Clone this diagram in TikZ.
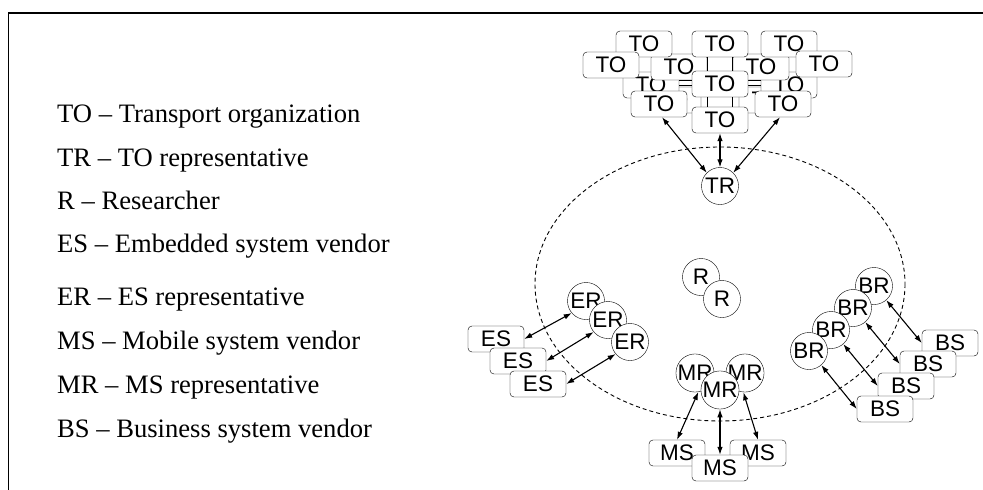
\documentclass[tikz,border=0pt]{standalone}
\usepackage{fontspec}
\setmainfont{Liberation Serif}
\newfontfamily\diagfont{Liberation Sans}
\usetikzlibrary{arrows.meta}
\tikzset{
  org/.style={draw, fill=white, rounded corners=4pt, minimum width=56pt,
    minimum height=26pt, inner sep=0pt, font=\diagfont\fontsize{22.5}{24}\selectfont},
  rep/.style={draw, fill=white, circle, minimum size=37pt, inner sep=0pt,
    font=\diagfont\fontsize{22.5}{24}\selectfont},
  legend/.style={anchor=base west, inner sep=0pt, font=\fontsize{26.6}{30}\selectfont},
  link/.style={{Latex[length=8pt,width=5.5pt]}-{Latex[length=8pt,width=5.5pt]}, line width=1.1pt},
}
\begin{document}
\begin{tikzpicture}[x=1pt,y=-1pt]
      \useasboundingbox (0,0) rectangle (983,490);
      % frame
      \draw[line width=2pt] (8,13) -- (983,13);
      \draw[line width=1pt] (8,13) -- (8,490);
      % legend
      \node[legend] (lgTO) at (57,122) {TO -- Transport organization};
      \node[legend] (lgTR) at (57,166) {TR -- TO representative};
      \node[legend] (lgR)  at (57,209) {R -- Researcher};
      \node[legend] (lgES) at (57,252) {ES -- Embedded system vendor};
      \node[legend] (lgER) at (57,305) {ER -- ES representative};
      \node[legend] (lgMS) at (57,349) {MS -- Mobile system vendor};
      \node[legend] (lgMR) at (57,393) {MR -- MS representative};
      \node[legend] (lgBS) at (57,437) {BS -- Business system vendor};
      % project circle
      \draw[dash pattern=on 4pt off 3pt, line width=0.9pt] (720,284) ellipse [x radius=185, y radius=137];
      % transport organizations
      \node[org] (hE) at (673,100) {TO};
      \node[org] (hF) at (767,100) {TO};
      \node[org] (hB) at (651,85) {TO};
      \node[org] (hD) at (789,85) {TO};
      \node[org] (hA) at (679,67) {TO};
      \node[org] (hC) at (761,67) {TO};
      \node[org] (toA) at (644,44) {TO};
      \node[org] (toB) at (720,44) {TO};
      \node[org] (toC) at (789,44) {TO};
      \draw ([yshift=5pt]hB.east) -- ([yshift=5pt]hD.west);
      \draw (hB.east) -- (hD.west);
      \draw ([xshift=-13pt]toB.south) -- ([xshift=-13pt,yshift=-24pt]toB.south);
      \draw ([xshift=12pt]toB.south) -- ([xshift=12pt,yshift=-24pt]toB.south);
      \node[org] (toD) at (611,65) {TO};
      \node[org] (toE) at (824,64) {TO};
      \node[org] (toF) at (720,84) {TO};
      \draw ([xshift=-13pt]toF.south) -- ([xshift=-13pt,yshift=-12pt]toF.south);
      \draw ([xshift=12pt]toF.south) -- ([xshift=12pt,yshift=-12pt]toF.south);
      \node[org] (toG) at (659,104) {TO};
      \node[org] (toH) at (783,104) {TO};
      \node[org] (toI) at (720,120) {TO};
      \node[rep] (tr) at (720,186) {TR};
      % researchers
      \node[rep] (r1) at (701,277) {R};
      \node[rep] (r2) at (722,299) {R};
      % embedded systems
      \node[org] (es1) at (496,339) {ES};
      \node[org] (es2) at (518,361) {ES};
      \node[org] (es3) at (538,384) {ES};
      \node[rep] (er1) at (586,301) {ER};
      \node[rep] (er2) at (608,320) {ER};
      \node[rep] (er3) at (630,342) {ER};
      % mobile systems
      \node[org] (ms1) at (677,453) {MS};
      \node[org] (ms3) at (758,453) {MS};
      \node[org] (ms2) at (720,468) {MS};
      \node[rep] (mr1) at (695,373) {MR};
      \node[rep] (mr3) at (745,373) {MR};
      \node[rep] (mr2) at (720,390) {MR};
      % business systems
      \node[org] (bs1) at (950,343) {BS};
      \node[org] (bs2) at (928,364) {BS};
      \node[org] (bs3) at (906,386) {BS};
      \node[org] (bs4) at (885,409) {BS};
      \node[rep] (br1) at (874,286) {BR};
      \node[rep] (br2) at (853,308) {BR};
      \node[rep] (br3) at (831,330) {BR};
      \node[rep] (br4) at (809,351) {BR};
      \begin{scope}[link]
        \draw ([xshift=3pt]toG.south) to (tr.135);
        \draw (toI) to (tr);
        \draw ([xshift=-3pt]toH.south) to (tr.45);
        \draw (es1.east) to (er1.220);
        \draw (es2.east) to (er2.220);
        \draw (es3.east) to (er3.220);
        \draw (ms1.north) to (mr1.280);
        \draw (ms2.north) to (mr2.south);
        \draw (ms3.north) to (mr3.265);
        \draw (br1.311) to (bs1.west);
        \draw (br2.311) to (bs2.west);
        \draw (br3.311) to (bs3.west);
        \draw (br4.311) to (bs4.west);
      \end{scope}
    \end{tikzpicture}
\end{document}
